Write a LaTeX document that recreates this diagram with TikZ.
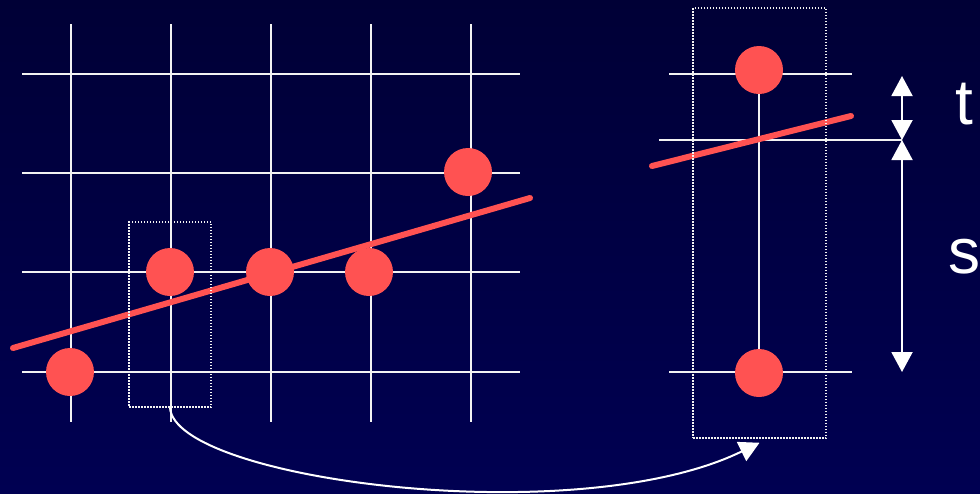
\documentclass[tikz,border=0pt]{standalone}
\usepackage{fontspec}
\setmainfont{Liberation Sans}
\usetikzlibrary{arrows.meta}
\definecolor{slide-top}{HTML}{000036}
\definecolor{slide-bottom}{HTML}{000052}
\definecolor{sample-red}{HTML}{FF5252}
\definecolor{grid-white}{HTML}{F2F2F2}

\begin{document}
\begin{tikzpicture}[x=1pt, y=-1pt,
        gridline/.style={draw=grid-white, line width=2pt},
        sample/.style={circle, fill=sample-red, minimum size=48pt, inner sep=0pt},
        window/.style={draw=grid-white, line width=1.5pt,
            dash pattern=on 1.5pt off 1.5pt, inner sep=0pt},
        fitline/.style={draw=sample-red, line width=6pt, line cap=round},
        bigtip/.style={-{Triangle[width=21pt,length=20pt]}},
        dimarrow/.style={draw=white, line width=2pt,
            {Triangle[width=21pt,length=20pt]}-{Triangle[width=21pt,length=20pt]}},
        letter/.style={anchor=base west, inner sep=0pt, text=white,
            font=\fontsize{64}{64}\selectfont}]
      % background
      \shade[top color=slide-top, bottom color=slide-bottom] (0,0) rectangle (980,493);
      \useasboundingbox (0,0) rectangle (980,493);

      % left: sample grid
      \foreach \x in {71,171,271,371,471}
        \draw[gridline] (\x,24) -- (\x,422);
      \foreach \y in {74,173,272,372}
        \draw[gridline] (22,\y) -- (520,\y);
      \draw[fitline] (13,348) -- (530,198);
      \node[sample] (p1) at (70,372) {};
      \node[sample] (p2) at (170,272) {};
      \node[sample] (p3) at (270,272) {};
      \node[sample] (p4) at (369,272) {};
      \node[sample] (p5) at (468,172) {};
      \node[window, minimum width=82pt, minimum height=185pt]
            (win) at (170,314.5) {};

      % right: zoomed column
      \draw[gridline] (669,74) -- (852,74);
      \draw[gridline] (669,372) -- (852,372);
      \node[sample] (q1) at (759,70) {};
      \node[sample] (q2) at (759,373) {};
      \draw[gridline] (q1) -- (q2);
      \coordinate (t-top) at (902,76);
      \coordinate (t-mid) at (902,140);
      \coordinate (s-bot) at (902,372);
      \draw[gridline] (659,140) -- (t-mid);
      \draw[fitline] (652,166) -- (851,116);
      \node[window, minimum width=133pt, minimum height=430pt]
            (zoomwin) at (759.5,223) {};

      % distances
      \draw[dimarrow] (t-top) -- (t-mid);
      \draw[dimarrow] (t-mid) -- (s-bot);
      \node[letter] (t-label) at (955,124) {t};
      \node[letter] (s-label) at (948,273) {s};

      % link between windows
      \draw[draw=white, line width=2pt, bigtip] (win.south)
            .. controls (175,480) and (577,532) .. ([yshift=-4pt]zoomwin.south);
    \end{tikzpicture}
\end{document}
